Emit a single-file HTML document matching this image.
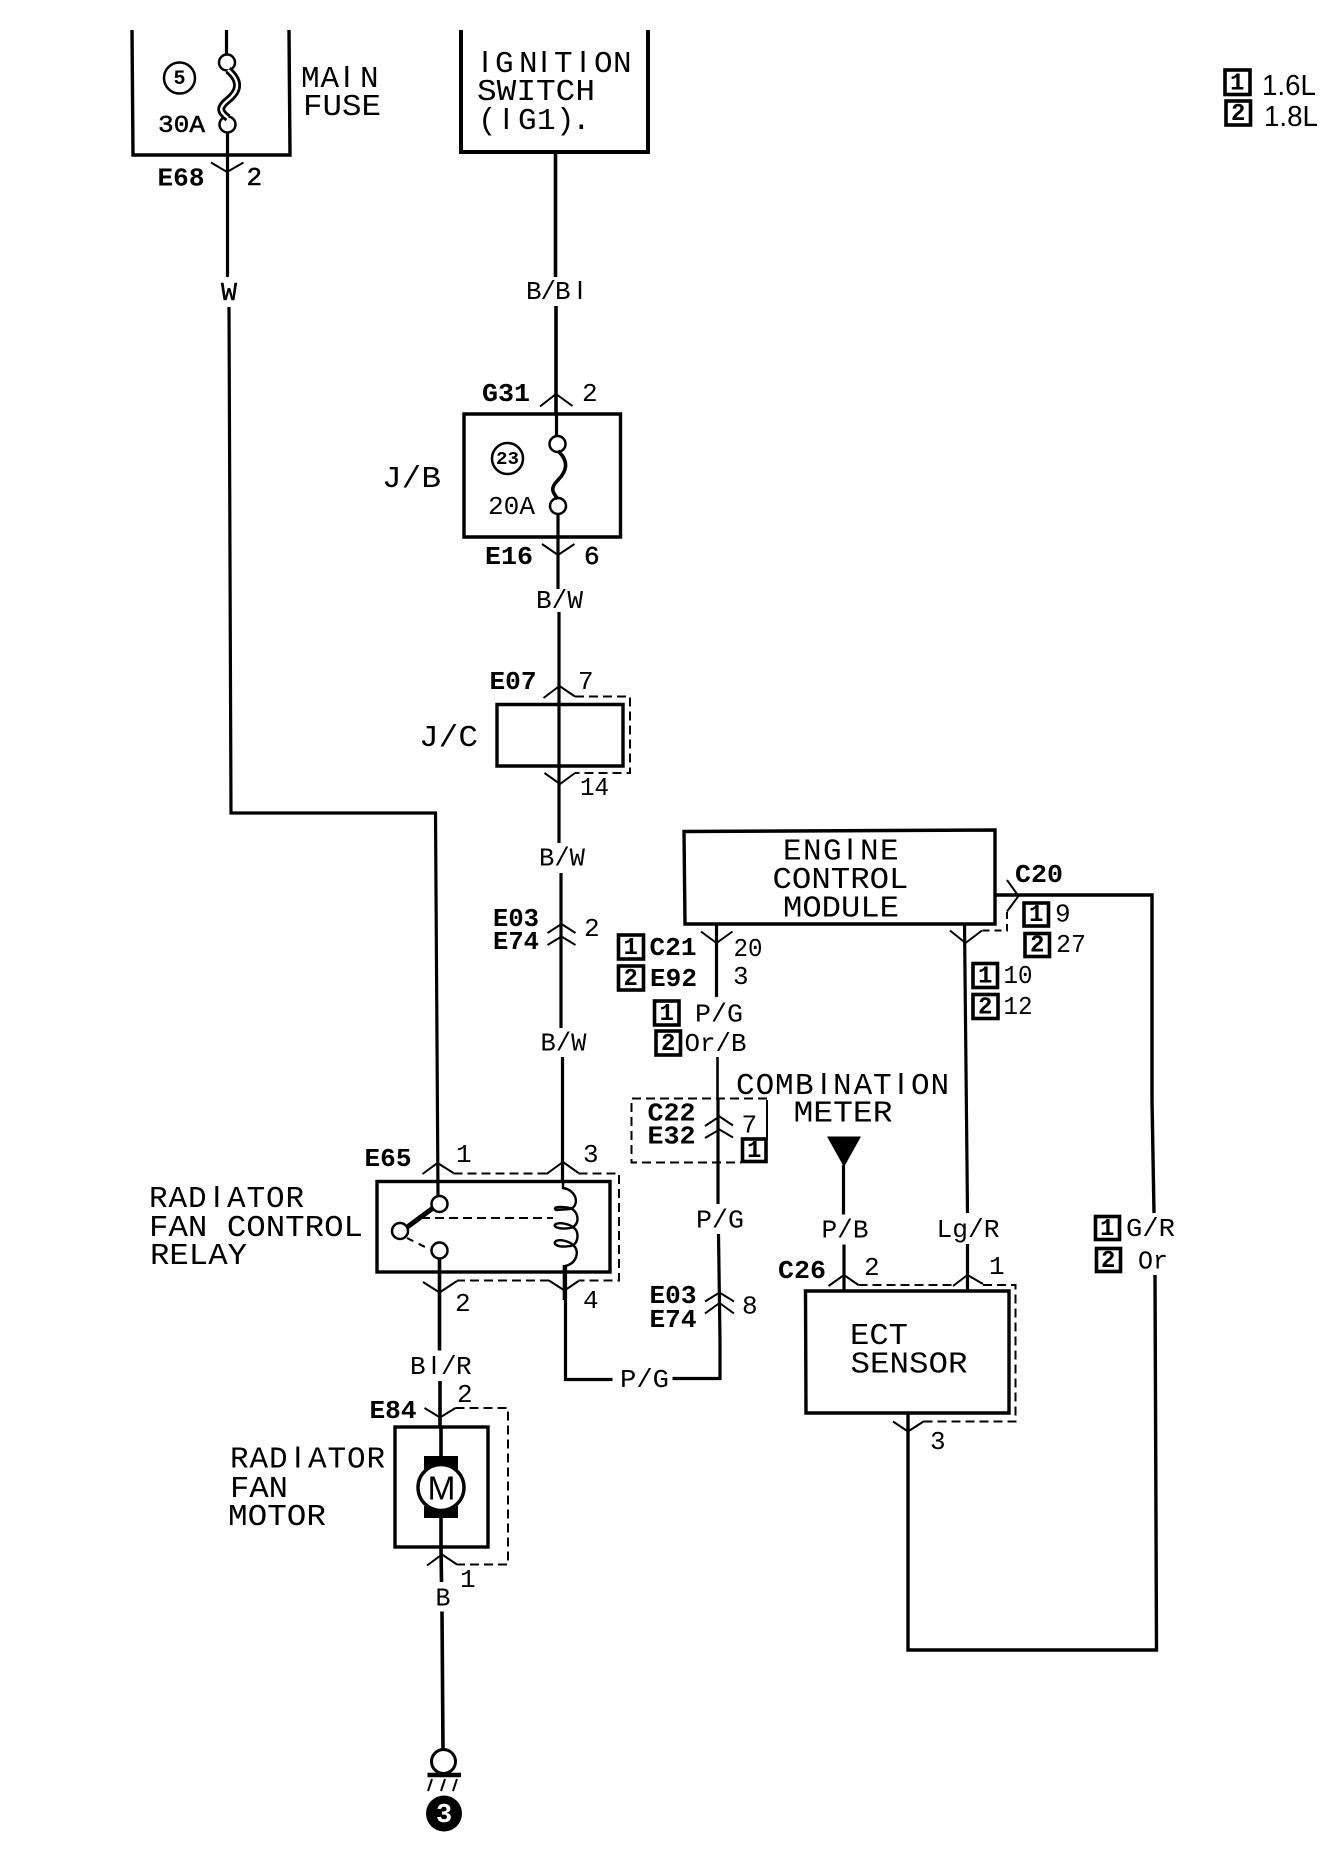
<!DOCTYPE html>
<html><head><meta charset="utf-8"><style>
html,body{margin:0;padding:0;background:#fff}
svg{display:block}
text{font-family:"Liberation Mono",monospace;fill:#000;transform:translateY(-1.2px)}
.s{font-family:"Liberation Sans",sans-serif}
.l{font-size:31px}
.m{font-size:26px}
.b{font-size:26px;font-weight:bold}
.d{font-size:24px;font-weight:bold}
.w{fill:none;stroke:#000;stroke-width:3.2}
.t{fill:none;stroke:#000;stroke-width:2}
.x{fill:none;stroke:#000;stroke-width:2;stroke-dasharray:9 5}
.o{fill:#fff;stroke:#000;stroke-width:2.5}
.r{fill:none;stroke:#000;stroke-width:3.4}
.n{fill:#fff;stroke:#000;stroke-width:3.6}
</style></head><body>
<svg width="1344" height="1860" viewBox="0 0 1344 1860" xmlns="http://www.w3.org/2000/svg">
<rect width="1344" height="1860" fill="#fff"/>

<!-- main fuse -->
<path class="r" d="M132 30L133 155H290L289 30"/>
<path class="w" d="M226.5 30V56M227.5 130V277M229 307L231 813H435.5L438 1196"/>
<circle class="o" cx="227" cy="62.5" r="8"/><circle class="o" cx="227.5" cy="124.5" r="8"/>
<path d="M228 70C242 82 238 92 228 100C218 108 220 112 228 118" fill="none" stroke="#000" stroke-width="8"/>
<path d="M228 70C242 82 238 92 228 100C218 108 220 112 228 118" fill="none" stroke="#fff" stroke-width="2.4"/>
<circle cx="179.5" cy="78" r="15.5" fill="none" stroke="#000" stroke-width="2.5"/>
<text class="d" style="font-size:20px" x="173.5" y="85">5</text>
<text class="b" style="font-size:24px;font-weight:normal;stroke:#000;stroke-width:.5" x="158" y="133" textLength="47" lengthAdjust="spacingAndGlyphs">30A</text>
<text class="l" y="88"><tspan x="301">M</tspan><tspan x="320.5">A</tspan><tspan class="s" x="342.5">I</tspan><tspan x="360">N</tspan></text>
<text class="l" x="303" y="116" textLength="78" lengthAdjust="spacingAndGlyphs">FUSE</text>
<path class="t" d="M211 162.5L227 172L243.5 162.5"/>
<text class="b" x="157.5" y="186.5" textLength="47" lengthAdjust="spacingAndGlyphs">E68</text>
<text class="b" style="font-weight:normal;stroke:#000;stroke-width:.5" x="246.5" y="186">2</text>
<text class="m" style="stroke:#000;stroke-width:.4" x="221" y="301" textLength="16" lengthAdjust="spacingAndGlyphs">W</text>

<!-- ignition -->
<path class="n" style="fill:none;stroke-width:4" d="M461 30V152H648V30"/>
<text class="l" y="73"><tspan class="s" x="480.7">I</tspan><tspan x="495">G</tspan><tspan x="519">N</tspan><tspan class="s" x="539.7">I</tspan><tspan x="554">T</tspan><tspan class="s" x="578.7">I</tspan><tspan x="594">O</tspan><tspan x="613">N</tspan></text>
<text class="l" x="477" y="101" textLength="118" lengthAdjust="spacingAndGlyphs">SWITCH</text>
<text class="l" y="130"><tspan x="478">(</tspan><tspan class="s" x="502">I</tspan><tspan x="518">G</tspan><tspan x="537">1</tspan><tspan x="556">)</tspan><tspan x="572">.</tspan></text>
<path class="w" style="stroke-width:3.6" d="M555.5 152V277M556 306V414"/>
<text class="m" y="300"><tspan x="526">B</tspan><tspan x="540.5">/</tspan><tspan x="555">B</tspan><tspan class="s" x="576.4">I</tspan></text>
<text class="b" x="482" y="402" textLength="48" lengthAdjust="spacingAndGlyphs">G31</text>
<text class="m" x="582" y="402">2</text>
<path class="t" d="M540 406.5L556 394L572.5 406"/>

<!-- J/B -->
<path class="r" d="M464 414H620.5V537H464Z"/>
<path class="w" d="M556.5 414V436M558 514V589"/>
<circle class="o" cx="557.5" cy="444" r="8"/><circle class="o" cx="558" cy="506" r="8"/>
<path d="M558 451C570 462 566 472 558 480C550 488 552 492 558 499" fill="none" stroke="#000" stroke-width="3.6"/>
<circle cx="507.5" cy="458.5" r="15.5" fill="none" stroke="#000" stroke-width="2.5"/>
<text class="d" style="font-size:18px" x="496" y="465" textLength="23" lengthAdjust="spacingAndGlyphs">23</text>
<text class="m" x="488" y="515" textLength="47" lengthAdjust="spacingAndGlyphs">20A</text>
<text class="l" x="382" y="488" textLength="59" lengthAdjust="spacingAndGlyphs">J/B</text>
<path class="t" d="M542 544L558 555L574.5 544"/>
<text class="b" x="485" y="565" textLength="48" lengthAdjust="spacingAndGlyphs">E16</text>
<text class="b" style="font-weight:normal;stroke:#000;stroke-width:.5" x="584" y="565">6</text>
<text class="m" x="536" y="609" textLength="47" lengthAdjust="spacingAndGlyphs">B/W</text>

<!-- J/C -->
<path class="w" d="M559 612V843"/>
<path class="r" d="M497 704.5H623V766H497Z"/>
<path class="x" d="M575 696.5H630V773H575"/>
<path class="t" d="M543.5 698L559.5 686L575 696.5M544.5 773L560 784L575 773"/>
<text class="b" x="489.5" y="690" textLength="47" lengthAdjust="spacingAndGlyphs">E07</text>
<text class="m" x="578" y="690">7</text>
<text class="l" x="419" y="747" textLength="59" lengthAdjust="spacingAndGlyphs">J/C</text>
<text class="m" x="580" y="796" textLength="29" lengthAdjust="spacingAndGlyphs">14</text>
<text class="m" x="539" y="866.5" textLength="46" lengthAdjust="spacingAndGlyphs">B/W</text>
<path class="w" d="M561 873V1028M562.5 1057V1181"/>
<text class="b" x="493" y="927" textLength="46" lengthAdjust="spacingAndGlyphs">E03</text>
<text class="b" x="493" y="950" textLength="46" lengthAdjust="spacingAndGlyphs">E74</text>
<path class="t" d="M547.5 933L561.5 924L575.5 933M547.5 945L561.5 936.5L575.5 945"/>
<text class="m" x="584" y="937">2</text>
<text class="m" x="540.5" y="1051.5" textLength="46" lengthAdjust="spacingAndGlyphs">B/W</text>

<!-- ECM -->
<path class="r" d="M684 831.5L995 830V924H685Z"/>
<text class="l" y="860.5"><tspan x="783">E</tspan><tspan x="803">N</tspan><tspan x="823">G</tspan><tspan class="s" x="845.7">I</tspan><tspan x="860">N</tspan><tspan x="880">E</tspan></text>
<text class="l" x="772.5" y="889" textLength="136" lengthAdjust="spacingAndGlyphs">CONTROL</text>
<text class="l" x="783" y="917.5" textLength="116" lengthAdjust="spacingAndGlyphs">MODULE</text>
<path class="w" d="M716.5 924V997"/>
<path class="t" d="M701 931.5L716.5 943L732.5 931.5"/>
<rect class="n" x="618.5" y="935" width="25" height="24"/><text class="d" x="623.5" y="955">1</text>
<rect class="n" x="618.5" y="966" width="25" height="24"/><text class="d" x="623.5" y="986">2</text>
<text class="b" x="649.5" y="956" textLength="47" lengthAdjust="spacingAndGlyphs">C21</text>
<text class="b" x="650" y="987" textLength="47" lengthAdjust="spacingAndGlyphs">E92</text>
<text class="m" x="733.5" y="957" textLength="29" lengthAdjust="spacingAndGlyphs">20</text>
<text class="m" x="733" y="985">3</text>
<rect class="n" x="654.5" y="1001" width="24.5" height="24"/><text class="d" x="659.5" y="1021">1</text>
<rect class="n" x="656" y="1031" width="24.5" height="24"/><text class="d" x="661" y="1051">2</text>
<text class="m" x="695" y="1022.5" textLength="48" lengthAdjust="spacingAndGlyphs">P/G</text>
<text class="m" x="684.5" y="1052" textLength="62" lengthAdjust="spacingAndGlyphs">Or/B</text>
<path class="w" style="stroke-width:2.6" d="M717.5 1057V1098"/>
<path class="w" d="M718 1098V1204M718.5 1234L720 1340V1378.5H672.5"/>
<text class="l" y="1095"><tspan x="736">C</tspan><tspan x="755.6">O</tspan><tspan x="775">M</tspan><tspan x="795">B</tspan><tspan class="s" x="819.5">I</tspan><tspan x="833">N</tspan><tspan x="853.6">A</tspan><tspan x="873">T</tspan><tspan class="s" x="896.6">I</tspan><tspan x="911">O</tspan><tspan x="930.5">N</tspan></text>
<text class="l" x="793.5" y="1122.5" textLength="99" lengthAdjust="spacingAndGlyphs">METER</text>

<!-- C22 -->
<path class="x" d="M767 1098.5H631.5V1162.5H741"/>
<path class="t" d="M767 1100V1140"/>
<text class="b" x="647.5" y="1121.5" textLength="48" lengthAdjust="spacingAndGlyphs">C22</text>
<text class="b" x="647.5" y="1144.5" textLength="48" lengthAdjust="spacingAndGlyphs">E32</text>
<path class="t" d="M705 1126L719.5 1116.5L733 1125.5M705 1138L719.5 1129.5L733 1137.5"/>
<text class="m" x="741.5" y="1133.5">7</text>
<rect class="n" x="742.5" y="1139" width="23.5" height="22.5"/><text class="d" x="747" y="1158">1</text>

<!-- P/G bottom -->
<text class="m" x="696" y="1228.5" textLength="48" lengthAdjust="spacingAndGlyphs">P/G</text>
<text class="b" x="649.5" y="1304" textLength="47" lengthAdjust="spacingAndGlyphs">E03</text>
<text class="b" x="649.5" y="1328" textLength="47" lengthAdjust="spacingAndGlyphs">E74</text>
<path class="t" d="M705 1301.5L719.5 1292.5L734 1301.5M705 1313.5L719.5 1303L734 1313.5"/>
<text class="m" x="742" y="1314.5">8</text>
<text class="m" x="620" y="1388" textLength="49" lengthAdjust="spacingAndGlyphs">P/G</text>
<path class="w" d="M612.5 1379.5H565.5V1265"/>

<!-- right wires -->
<path class="w" style="stroke-width:3.4" d="M996 895H1152V1100L1154 1213M1155 1275L1156.5 1650H908V1413"/>
<path class="t" d="M1007 880L1018.5 896L1007 911.5"/>
<path class="x" style="stroke-dasharray:7 5" d="M1007 912V930.5H982"/>
<path class="t" d="M950 930.5L965.5 943L982 930.5"/>
<path class="w" d="M964.5 924L967.5 1213M967.5 1244V1291"/>
<text class="b" x="1015" y="883" textLength="48" lengthAdjust="spacingAndGlyphs">C20</text>
<rect class="n" x="1024" y="903" width="24.5" height="23"/><text class="d" x="1029" y="922">1</text>
<rect class="n" x="1025" y="933.5" width="24.5" height="23"/><text class="d" x="1030" y="952.5">2</text>
<text class="m" x="1055" y="922.5">9</text>
<text class="m" x="1056" y="953" textLength="30" lengthAdjust="spacingAndGlyphs">27</text>
<rect class="n" x="973" y="963.5" width="24.5" height="24"/><text class="d" x="978" y="983.5">1</text>
<rect class="n" x="973" y="994.5" width="25" height="24"/><text class="d" x="978" y="1014.5">2</text>
<text class="m" x="1003.5" y="984" textLength="29" lengthAdjust="spacingAndGlyphs">10</text>
<text class="m" x="1003.5" y="1015" textLength="29" lengthAdjust="spacingAndGlyphs">12</text>

<!-- meter triangle -->
<path d="M827 1136.5H861L844 1167Z" fill="#000"/>
<path class="w" d="M843.5 1165V1214.5M844 1244.5V1291"/>
<text class="m" x="821.5" y="1238.5" textLength="47" lengthAdjust="spacingAndGlyphs">P/B</text>
<text class="m" x="936.5" y="1238" textLength="63" lengthAdjust="spacingAndGlyphs">Lg/R</text>
<rect class="n" x="1095.5" y="1216.5" width="24" height="23"/><text class="d" x="1100" y="1236">1</text>
<rect class="n" x="1096.5" y="1248.5" width="24" height="23"/><text class="d" x="1101" y="1268">2</text>
<text class="m" x="1126" y="1237" textLength="49" lengthAdjust="spacingAndGlyphs">G/R</text>
<text class="m" x="1138" y="1269.5" textLength="30" lengthAdjust="spacingAndGlyphs">Or</text>

<!-- ECT -->
<text class="b" x="778" y="1279" textLength="48" lengthAdjust="spacingAndGlyphs">C26</text>
<text class="m" x="864" y="1276">2</text>
<text class="m" x="989" y="1275">1</text>
<path class="t" d="M828.5 1286L844 1275L858.5 1285M953 1286L967.5 1275L983 1284M893 1421.5L908 1431.5L923.5 1421.5"/>
<path class="x" d="M858.5 1285H953M983 1285H1015.5V1421.5H923.5"/>
<path class="r" d="M805.5 1291H1009V1413H806Z"/>
<text class="l" x="850" y="1345" textLength="58" lengthAdjust="spacingAndGlyphs">ECT</text>
<text class="l" x="850.5" y="1373.5" textLength="117" lengthAdjust="spacingAndGlyphs">SENSOR</text>
<text class="m" x="930" y="1450">3</text>

<!-- relay -->
<rect class="r" x="377" y="1181.5" width="233" height="90.5"/>
<path class="x" d="M453.5 1173.5H546.5M578.5 1173.5H619V1280.5H578.5M549 1280.5H457"/>
<path class="t" d="M422.5 1174L437.5 1163L453.5 1173M546.5 1174L563 1162L578.5 1173M423 1282L439.5 1292.5L457 1281M549 1280.5L564.5 1290.5L578.5 1281"/>
<text class="b" x="364.5" y="1167" textLength="47" lengthAdjust="spacingAndGlyphs">E65</text>
<text class="m" x="456" y="1163">1</text>
<text class="m" x="583" y="1163">3</text>
<text class="m" x="455" y="1312">2</text>
<text class="m" x="583" y="1309">4</text>
<text class="l" y="1208"><tspan x="149">R</tspan><tspan x="168.5">A</tspan><tspan x="188">D</tspan><tspan class="s" x="212.5">I</tspan><tspan x="227">A</tspan><tspan x="246.5">T</tspan><tspan x="266">O</tspan><tspan x="285.5">R</tspan></text>
<text class="l" x="149" y="1237" textLength="214" lengthAdjust="spacingAndGlyphs">FAN CONTROL</text>
<text class="l" x="150" y="1265" textLength="97" lengthAdjust="spacingAndGlyphs">RELAY</text>
<path d="M406 1228L433 1208" fill="none" stroke="#000" stroke-width="5"/>
<path class="x" d="M407 1238L429 1249" style="stroke-dasharray:7 6"/>
<path class="x" d="M421 1218H553"/>
<circle class="o" cx="439.5" cy="1204" r="8"/><circle class="o" cx="400" cy="1231" r="8"/><circle class="o" cx="439.5" cy="1250.5" r="8"/>
<path class="w" d="M563 1181V1188C577 1190 580 1206 570 1209L556 1210C552 1207 560 1206 570 1208C580 1212 580 1226 570 1228C558 1230 552 1226 556 1224C560 1222 570 1224 574 1228C580 1232 578 1246 570 1246C558 1248 552 1244 556 1241C560 1239 570 1241 574 1246C580 1252 576 1264 565 1266V1290" style="stroke-width:2.4"/>
<path class="w" d="M564.5 1265V1300" style="stroke-width:3.6"/>
<path class="w" d="M439.5 1258V1350.5M440 1381V1427" style="stroke-width:3.6"/>
<text class="m" y="1375"><tspan x="410">B</tspan><tspan class="s" x="430.4">I</tspan><tspan x="441">/</tspan><tspan x="456">R</tspan></text>

<!-- motor -->
<text class="b" x="369.5" y="1419" textLength="47" lengthAdjust="spacingAndGlyphs">E84</text>
<text class="m" x="457" y="1403">2</text>
<path class="t" d="M424.5 1408L440 1417.5L455.5 1408M427 1565.5L442 1554.5L457 1564.5"/>
<path class="x" d="M455.5 1408H508V1564.5H457"/>
<rect class="r" x="395" y="1427" width="93" height="120"/>
<path class="w" style="stroke-width:3.6" d="M441 1427V1456M441 1518V1547L441.5 1582M442 1611.5L443 1750"/>
<rect x="424" y="1456" width="34" height="13" fill="#000"/>
<rect x="424" y="1506" width="34" height="12" fill="#000"/>
<circle cx="441" cy="1487.5" r="23" fill="#fff" stroke="#000" stroke-width="3.4"/>
<text class="s" style="font-size:33px" x="427.5" y="1500.5" textLength="28" lengthAdjust="spacingAndGlyphs">M</text>
<text class="l" y="1468.5"><tspan x="230">R</tspan><tspan x="249.5">A</tspan><tspan x="269">D</tspan><tspan class="s" x="293.5">I</tspan><tspan x="308">A</tspan><tspan x="327.5">T</tspan><tspan x="347">O</tspan><tspan x="366.5">R</tspan></text>
<text class="l" x="230" y="1498" textLength="58" lengthAdjust="spacingAndGlyphs">FAN</text>
<text class="l" x="228" y="1526" textLength="98" lengthAdjust="spacingAndGlyphs">MOTOR</text>
<text class="m" x="460" y="1588">1</text>
<text class="m" x="435.5" y="1606.5" textLength="15" lengthAdjust="spacingAndGlyphs">B</text>

<!-- ground -->
<circle class="o" cx="443.5" cy="1761.5" r="12" style="stroke-width:3"/>
<path d="M427.5 1775H461" fill="none" stroke="#000" stroke-width="4.5"/>
<path class="t" d="M432 1779L428 1791M445 1779L441 1791M457 1779L453 1791"/>
<circle cx="444" cy="1813.5" r="18" fill="#000"/>
<text style="fill:#fff;font-size:27px;font-weight:bold" x="436" y="1823">3</text>

<!-- legend -->
<rect class="n" x="1225" y="70" width="25" height="24.5"/><text class="d" x="1230" y="90.5">1</text>
<rect class="n" x="1226" y="101" width="24.5" height="24"/><text class="d" x="1231" y="121">2</text>
<text class="s" style="font-size:29px" x="1262" y="96" textLength="54" lengthAdjust="spacingAndGlyphs">1.6L</text>
<text class="s" style="font-size:29px" x="1264" y="127" textLength="54" lengthAdjust="spacingAndGlyphs">1.8L</text>
</svg>
</body></html>
